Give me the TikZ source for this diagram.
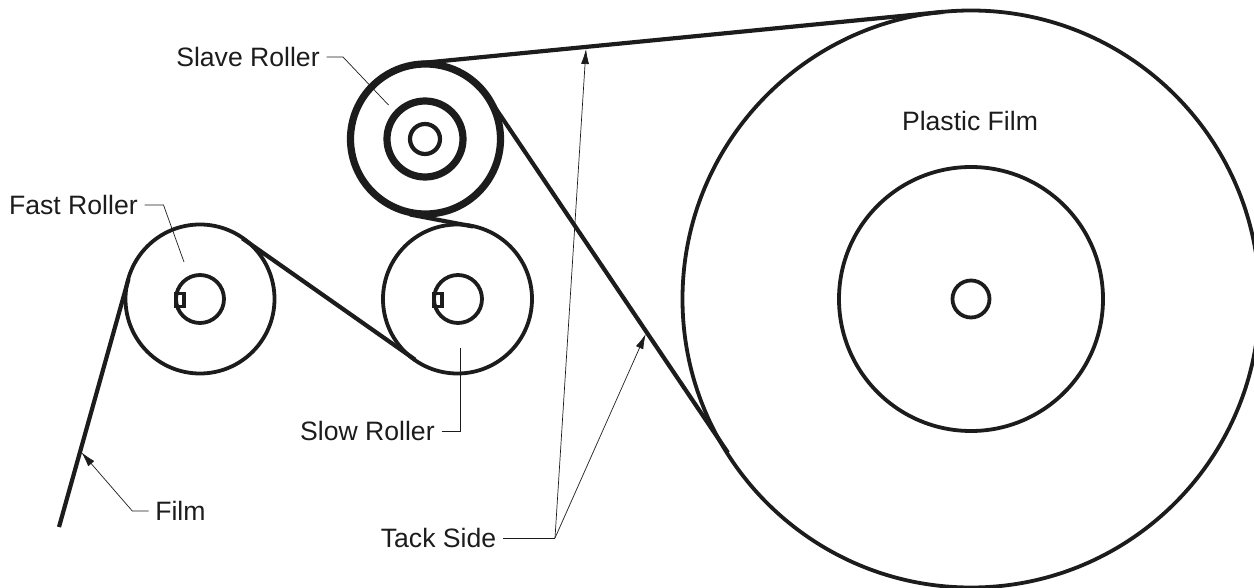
\documentclass[tikz,border=0pt]{standalone}
\usepackage{fontspec}
\setmainfont{Liberation Sans}
\usetikzlibrary{arrows.meta}
\definecolor{Ink}{HTML}{1C1C1C}
\tikzset{
  lab/.style={font=\fontsize{13.3}{15}\selectfont,text=Ink,inner sep=3.2pt},
  belt/.style={draw=Ink,line width=2.1pt},
  leader/.style={draw=Ink,line width=0.35pt},
  tip/.style={leader,-{Latex[length=7.5pt,width=4pt]}}
}
\begin{document}
\begin{tikzpicture}[x=0.5pt,y=-0.5pt]
    \useasboundingbox (0,0) rectangle (1254,588);
    % rollers
    \foreach \cx/\cy/\r/\w in {
      971/299/288.5/1.9, 971/299/132/1.9, 971/299/18.5/1.9,
      200/299/74.5/1.9, 200/299/24/1.9,
      457.5/299/74.5/1.9, 458/299/24/1.9,
      425.5/139/75/3.6, 425/139/38/3.6, 425/139/15/2.1}{
      \draw[draw=Ink,line width=\w pt] (\cx,\cy) circle (\r);
    }
    % keys
    \foreach \cx in {176,434}{
      \draw[draw=Ink,line width=1.8pt] (\cx,293.5) rectangle (\cx+8,306.5);
    }
    % film path
    \coordinate (filmend) at (59,527);
    \coordinate (fasttop) at (128.5,279);
    \coordinate (fastout) at (242.4,238.4);
    \coordinate (slowin) at (415,359.6);
    \coordinate (slowtop) at (473,226.5);
    \coordinate (slavelow) at (410,214.5);
    \coordinate (slavetop) at (417.7,63.4);
    \coordinate (rolltop) at (943.2,11.9);
    \coordinate (slaveout) at (488,97);
    \coordinate (rollin) at (727.9,452.7);
    \draw[belt] (filmend) -- (fasttop);
    \draw[belt] (fastout) -- (slowin);
    \draw[belt] (slowtop) -- (slavelow);
    \draw[belt] (slavetop) -- (rolltop);
    \draw[belt] (slaveout) -- (rollin);
    % labels
    \node[lab,anchor=east] (slavelab) at (326.5,57) {Slave Roller};
    \node[lab,anchor=east] (fastlab) at (144.5,205) {Fast Roller};
    \node[lab,anchor=east] (slowlab) at (441.5,431) {Slow Roller};
    \node[lab,anchor=west] (filmlab) at (148.5,511) {Film};
    \node[lab,anchor=east] (tacklab) at (503,538) {Tack Side};
    \node[lab] (rolllab) at (970,121) {Plastic Film};
    % leaders
    \coordinate (slavept) at (388.5,105);
    \coordinate (fastpt) at (184,262);
    \coordinate (slowpt) at (460.5,348);
    \coordinate (filmpt) at (81.4,452.3);
    \coordinate (tackup) at (586,49);
    \coordinate (tacklow) at (645.7,334);
    \draw[leader] (slavelab.east) -- (343,57) -- (slavept);
    \draw[leader] (fastlab.east) -- (163.5,205) -- (fastpt);
    \draw[leader] (slowlab.east) -- (460.5,431) -- (slowpt);
    \draw[tip] (filmlab.west) -- (132.3,511) -- (filmpt);
    \draw[leader] (tacklab.east) -- (555,538);
    \draw[tip] (555,538) -- (tackup);
    \draw[tip] (555,538) -- (tacklow);
\end{tikzpicture}
\end{document}
